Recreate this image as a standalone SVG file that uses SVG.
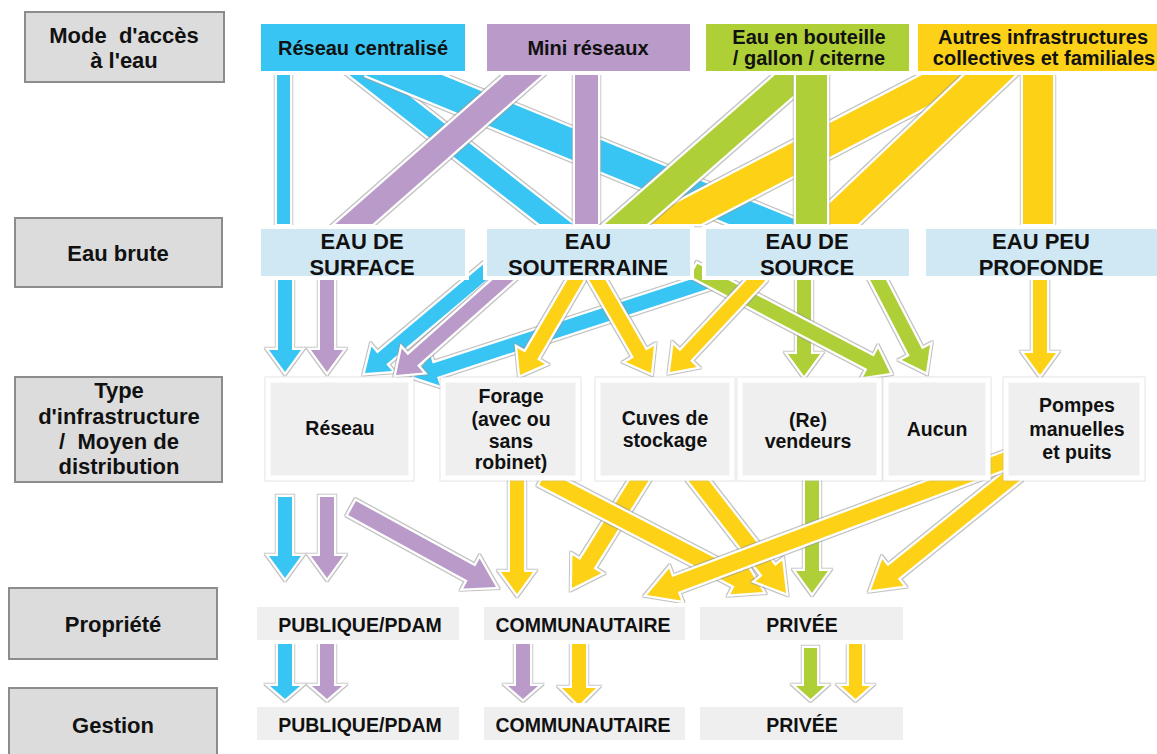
<svg xmlns="http://www.w3.org/2000/svg" width="1157" height="754" viewBox="0 0 1157 754">
<defs>
<filter id="halo" filterUnits="userSpaceOnUse" x="0" y="0" width="1157" height="754">
<feMorphology in="SourceAlpha" operator="dilate" radius="0.8" result="d"/>
<feFlood flood-color="#9a9a9a" flood-opacity="0.6"/>
<feComposite in2="d" operator="in" result="g"/>
<feMerge><feMergeNode in="g"/><feMergeNode in="SourceGraphic"/></feMerge>
</filter>
<filter id="halo2" filterUnits="userSpaceOnUse" x="0" y="0" width="1157" height="754">
<feMorphology in="SourceAlpha" operator="dilate" radius="0.7" result="d"/>
<feFlood flood-color="#b0a8a8" flood-opacity="0.35"/>
<feComposite in2="d" operator="in" result="g"/>
<feMerge><feMergeNode in="g"/><feMergeNode in="SourceGraphic"/></feMerge>
</filter>
<style>
text{font-family:"Liberation Sans",Arial,sans-serif;font-weight:bold;fill:#111;text-anchor:middle}
.c{stroke:#fff;stroke-width:4.5;stroke-linejoin:miter;paint-order:stroke;filter:url(#halo)}
.bl{fill:#38c5f3}.pu{fill:#b99ac8}.gr{fill:#afcf37}.ye{fill:#fdd117}
.lab{fill:#dddcdc;stroke:#8c8c8c;stroke-width:2}
.lab-t{font-size:22px}
.r1{stroke:#fff;stroke-width:4}
.r1t{font-size:20px}
.r2{fill:#d0e7f4;stroke:#fff;stroke-width:4}
.r2t{font-size:22px}
.r3{fill:#efefef;stroke:#fff;stroke-width:5;filter:url(#halo2)}
.r3t{font-size:19.5px}
.r4{fill:#efefef;stroke:#fff;stroke-width:4}
.r4t{font-size:19.5px}
</style>
</defs>
<rect width="1157" height="754" fill="#fff"/>

<g id="connectors">
<!-- access mode to raw water -->
<polygon class="c bl" points="277,75 290,75 290,224 277,224"/>
<polygon class="c bl" points="349.5,75 382.5,75 572.5,224 539.5,224"/>
<polygon class="c bl" points="365,75 442,75 806,224 729,224"/>
<polygon class="c ye" points="922,75 987,75 701,224 636,224"/>
<polygon class="c ye" points="965,75 1015,75 858,224 808,224"/>
<polygon class="c ye" points="1023,75 1053,75 1053,224 1023,224"/>
<polygon class="c pu" points="505,75 542,75 372.5,224 335.5,224"/>
<polygon class="c pu" points="575,75 598,75 598,224 575,224"/>
<polygon class="c gr" points="775,75 817,75 647,224 605,224"/>
<polygon class="c gr" points="796,75 827,75 827,224 796,224"/>

<!-- raw water to infrastructure -->
<polygon class="c bl" points="709.8,273.3 432.8,363.5 430,355 414,377 439.9,385.4 437.1,376.9 714.2,286.7"/>
<polygon class="c bl" points="278,276 292,276 292,350 301,350 285,372 269,350 278,350"/>
<polygon class="c pu" points="320,276 334,276 334,350 343,350 327,372 311,350 320,350"/>
<polygon class="c bl" points="487.5,260.7 377.3,353.5 371.5,346.6 365,373 392.1,371.1 386.3,364.2 496.5,271.4"/>
<polygon class="c pu" points="507.4,266.8 407.8,355.2 401.8,348.4 396,375 423.1,372.4 417.1,365.6 516.7,277.2"/>
<polygon class="c gr" points="797,276 811,276 811,354 820,354 804,376 788,354 797,354"/>
<polygon class="c gr" points="690.7,276.2 867.3,369 863.1,376.9 890,373 878,348.6 873.8,356.6 697.3,263.8"/>
<polygon class="c gr" points="869.8,279.2 909.6,355.7 901.7,359.9 926,372 930,345.1 922.1,349.3 882.2,272.8"/>
<polygon class="c ye" points="1033,276 1047,276 1047,353 1056,353 1040,375 1024,353 1033,353"/>
<polygon class="c ye" points="572,272.5 525.1,352.5 517.3,347.9 520,375 544.9,364.1 537.2,359.6 584,279.5"/>
<polygon class="c ye" points="588.9,279.5 633.9,357.5 626.1,362 651,373 653.9,346 646.1,350.5 601.1,272.5"/>
<polygon class="c ye" points="754.9,271.2 679.9,351.2 673.4,345 670,372 696.7,366.9 690.2,360.7 765.1,280.8"/>

<!-- infrastructure to ownership -->
<polygon class="c bl" points="278,497 292,497 292,556 301,556 285,578 269,556 278,556"/>
<polygon class="c pu" points="320,497 334,497 334,556 343,556 327,578 311,556 320,556"/>
<polygon class="c pu" points="348.2,515 467.6,580.5 463.3,588.4 496,587 479.6,558.6 475.3,566.5 355.9,501"/>
<polygon class="c ye" points="510,476 524,476 524,572 533,572 517,594 501,572 510,572"/>
<polygon class="c ye" points="635.2,471.8 580.1,560 572.4,555.3 572,588 601.3,573.3 593.6,568.5 648.8,480.2"/>
<polygon class="c ye" points="539.3,485.1 734.5,586.2 730.3,594.2 763,592 746,564 741.8,572 546.7,470.9"/>
<polygon class="c ye" points="688.7,480.9 762.5,575.8 755.4,581.3 786,593 782.2,560.5 775.1,566 701.3,471.1"/>
<polygon class="c gr" points="805,476 819,476 819,571 828,571 812,593 796,571 805,571"/>
<polygon class="c ye" points="1010,467.8 887.8,566.2 882.2,559.2 871,590 903.5,585.7 897.8,578.7 1020,480.2"/>
<polygon class="c ye" points="1009.2,450.5 672.3,577 669.1,568.5 647,595 681.1,600.4 677.9,592 1014.8,465.5"/>

<!-- ownership to management -->
<polygon class="c bl" points="278,640 292,640 292,686 300,686 285,699 270,686 278,686"/>
<polygon class="c pu" points="320,640 334,640 334,686 342,686 327,699 312,686 320,686"/>
<polygon class="c pu" points="516,640 530,640 530,686 538,686 523,699 508,686 516,686"/>
<polygon class="c ye" points="572,640 586,640 586,688 596,688 579,705 562,688 572,688"/>
<polygon class="c gr" points="804,648 817,648 817,686 825,686 810.5,699 796,686 804,686"/>
<polygon class="c ye" points="849,640 862,640 862,686 870,686 855.5,699 841,686 849,686"/>
</g>

<g id="lab-mode"><rect class="lab" x="25" y="12" width="199" height="70"/>
<text class="lab-t" x="124" y="43" xml:space="preserve">Mode  d'accès</text><text class="lab-t" x="124" y="68">à l'eau</text></g>
<g id="lab-brute"><rect class="lab" x="15" y="218" width="207" height="69"/>
<text class="lab-t" x="118" y="261">Eau brute</text></g>
<g id="lab-type"><rect class="lab" x="15" y="377" width="207" height="105"/>
<text class="lab-t" x="119" y="398">Type</text><text class="lab-t" x="119" y="424">d'infrastructure</text>
<text class="lab-t" x="119" y="449" xml:space="preserve">/  Moyen de</text><text class="lab-t" x="119" y="474">distribution</text></g>
<g id="lab-prop"><rect class="lab" x="9" y="588" width="208" height="71"/>
<text class="lab-t" x="113" y="632">Propriété</text></g>
<g id="lab-gest"><rect class="lab" x="9" y="688" width="208" height="72"/>
<text class="lab-t" x="113" y="733">Gestion</text></g>

<g id="n-reseau-centralise"><rect class="r1 bl" x="259" y="22" width="208" height="51"/>
<text class="r1t" x="363" y="55">Réseau centralisé</text></g>
<g id="n-mini-reseaux"><rect class="r1 pu" x="485" y="22" width="207" height="51"/>
<text class="r1t" x="588" y="55">Mini réseaux</text></g>
<g id="n-bouteille"><rect class="r1 gr" x="704" y="22" width="207" height="51"/>
<text class="r1t" x="809" y="44">Eau en bouteille</text><text class="r1t" x="809" y="65">/ gallon / citerne</text></g>
<g id="n-autres"><rect class="r1 ye" x="916" y="22" width="245" height="51"/>
<text class="r1t" x="1043" y="44">Autres infrastructures</text><text class="r1t" x="1044" y="65">collectives et familiales</text></g>

<g id="n-surface"><rect class="r2" x="259" y="227" width="208" height="51"/>
<text class="r2t" x="362" y="249">EAU DE</text><text class="r2t" x="362" y="275">SURFACE</text></g>
<g id="n-souterraine"><rect class="r2" x="485" y="227" width="207" height="51"/>
<text class="r2t" x="588" y="249">EAU</text><text class="r2t" x="588" y="275">SOUTERRAINE</text></g>
<g id="n-source"><rect class="r2" x="704" y="227" width="207" height="51"/>
<text class="r2t" x="807" y="249">EAU DE</text><text class="r2t" x="807" y="275">SOURCE</text></g>
<g id="n-peu-profonde"><rect class="r2" x="924" y="227" width="237" height="51"/>
<text class="r2t" x="1041" y="249">EAU PEU</text><text class="r2t" x="1041" y="275">PROFONDE</text></g>

<g id="n-reseau"><rect class="r3" x="268" y="380" width="143" height="98"/>
<text class="r3t" x="340" y="435">Réseau</text></g>
<g id="n-forage"><rect class="r3" x="443" y="380" width="135" height="98"/>
<text class="r3t" x="511" y="403">Forage</text><text class="r3t" x="511" y="426">(avec ou</text>
<text class="r3t" x="511" y="448">sans</text><text class="r3t" x="511" y="469">robinet)</text></g>
<g id="n-cuves"><rect class="r3" x="598" y="380" width="134" height="98"/>
<text class="r3t" x="665" y="425">Cuves de</text><text class="r3t" x="665" y="447">stockage</text></g>
<g id="n-vendeurs"><rect class="r3" x="740" y="380" width="139" height="98"/>
<text class="r3t" x="808" y="427">(Re)</text><text class="r3t" x="808" y="448">vendeurs</text></g>
<g id="n-aucun"><rect class="r3" x="886" y="380" width="102" height="98"/>
<text class="r3t" x="937" y="436">Aucun</text></g>
<g id="n-pompes"><rect class="r3" x="1006" y="380" width="136" height="98"/>
<text class="r3t" x="1077" y="412">Pompes</text><text class="r3t" x="1077" y="436">manuelles</text><text class="r3t" x="1077" y="459">et puits</text></g>

<g id="n-prop-publique"><rect class="r4" x="255" y="605" width="206" height="37"/>
<text class="r4t" x="360" y="632">PUBLIQUE/PDAM</text></g>
<g id="n-prop-communautaire"><rect class="r4" x="482" y="605" width="205" height="37"/>
<text class="r4t" x="583" y="632">COMMUNAUTAIRE</text></g>
<g id="n-prop-privee"><rect class="r4" x="698" y="605" width="207" height="37"/>
<text class="r4t" x="802" y="632">PRIVÉE</text></g>

<g id="n-gest-publique"><rect class="r4" x="255" y="705" width="206" height="37"/>
<text class="r4t" x="360" y="732">PUBLIQUE/PDAM</text></g>
<g id="n-gest-communautaire"><rect class="r4" x="482" y="705" width="205" height="37"/>
<text class="r4t" x="583" y="732">COMMUNAUTAIRE</text></g>
<g id="n-gest-privee"><rect class="r4" x="698" y="705" width="207" height="37"/>
<text class="r4t" x="802" y="732">PRIVÉE</text></g>
</svg>
